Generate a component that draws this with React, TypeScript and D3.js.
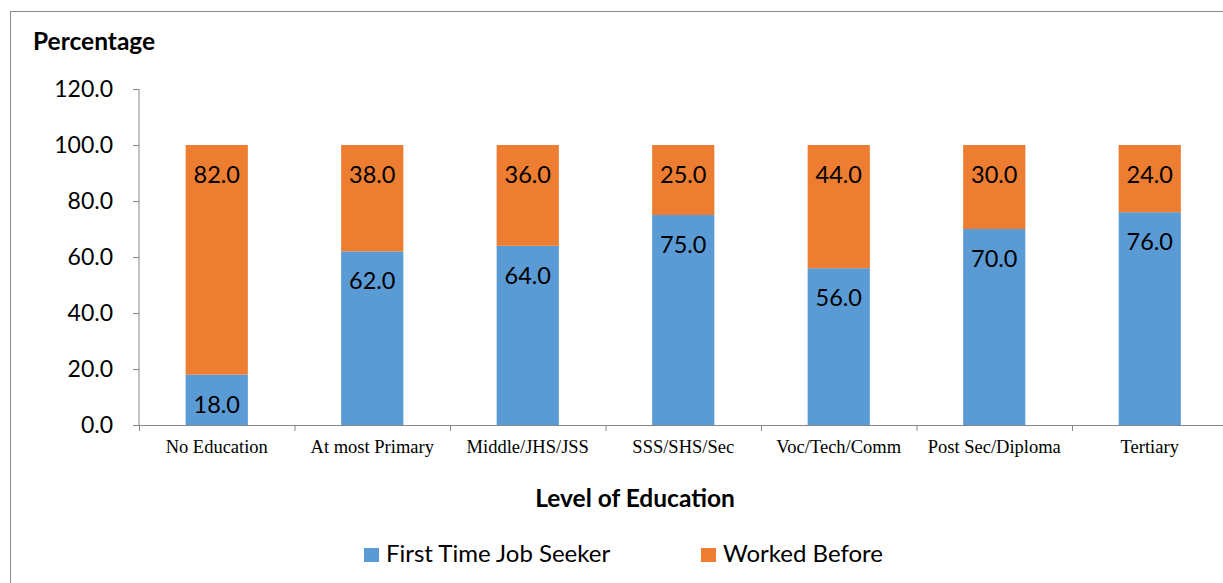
import React from "react";
import * as d3 from "d3";

const categories = [
  "No Education",
  "At most Primary",
  "Middle/JHS/JSS",
  "SSS/SHS/Sec",
  "Voc/Tech/Comm",
  "Post Sec/Diploma",
  "Tertiary",
];
const firstTime = [18, 62, 64, 75, 56, 70, 76];
const workedBefore = [82, 38, 36, 25, 44, 30, 24];
const yTicks = [0, 20, 40, 60, 80, 100, 120];
const seriesNames = ["First Time Job Seeker", "Worked Before"];

const BLUE = "#5B9BD5";
const ORANGE = "#ED7D31";
const AXIS = "#868686";
const FONT = "Lato, 'Open Sans', sans-serif";
const SERIF = "'Liberation Serif', 'Times New Roman', serif";

export default function App() {
  const width = 1223;
  const height = 583;
  const x0 = 139;
  const band = 155.5;

  const x = d3
    .scaleBand<string>()
    .domain(categories)
    .range([x0, x0 + band * categories.length])
    .paddingInner(0.6)
    .paddingOuter(0.3);
  const y = d3.scaleLinear().domain([0, 120]).range([425, 89]);

  const rows = categories.map((c, i) => ({ cat: c, first: firstTime[i], worked: workedBefore[i] }));
  const stack = d3.stack<any>().keys(["first", "worked"])(rows);
  const colors = [BLUE, ORANGE];

  return (
    <div style={{ position: "absolute", left: 0, top: 0 }}>
      <svg width={width} height={height} style={{ display: "block", background: "#fff" }}>
        <rect x={10.5} y={11.5} width={1230} height={600} fill="#fff" stroke="#898989" strokeWidth={1} />

        <text x={33} y={50} fontFamily={FONT} fontWeight="bold" fontSize={24.5} fill="#000">
          Percentage
        </text>

        {/* y axis */}
        <line x1={x0} x2={x0} y1={y(120)} y2={y(0)} stroke={AXIS} />
        {yTicks.map((t) => (
          <g key={t}>
            <line x1={x0 - 6} x2={x0} y1={y(t) + 0.5} y2={y(t) + 0.5} stroke={AXIS} />
            <text x={113} y={y(t)} dy="0.36em" textAnchor="end" fontFamily={FONT} fontSize={23} fill="#000">
              {t.toFixed(1)}
            </text>
          </g>
        ))}

        {/* bars */}
        {stack.map((s, si) =>
          s.map((d, i) => {
            const cat = categories[i];
            const top = y(d[1]);
            const bottom = y(d[0]);
            const val = d[1] - d[0];
            return (
              <g key={`${si}-${i}`}>
                <rect x={x(cat)} y={top} width={x.bandwidth()} height={bottom - top} fill={colors[si]} />
                <text
                  x={(x(cat) as number) + x.bandwidth() / 2}
                  y={top + 38}
                  textAnchor="middle"
                  fontFamily={FONT}
                  fontSize={23.5}
                  fill="#000"
                >
                  {val.toFixed(1)}
                </text>
              </g>
            );
          })
        )}

        {/* x axis */}
        <line x1={x0} x2={width + 10} y1={y(0) + 0.5} y2={y(0) + 0.5} stroke={AXIS} />
        {categories.map((c, i) => (
          <line
            key={c}
            x1={x0 + band * i + 0.5}
            x2={x0 + band * i + 0.5}
            y1={y(0)}
            y2={y(0) + 6}
            stroke={AXIS}
          />
        ))}
        {categories.map((c) => (
          <text
            key={c}
            x={(x(c) as number) + x.bandwidth() / 2}
            y={453}
            textAnchor="middle"
            fontFamily={SERIF}
            fontSize={18.5}
            fill="#000"
          >
            {c}
          </text>
        ))}

        <text x={635} y={507} textAnchor="middle" fontFamily={FONT} fontWeight="bold" fontSize={24.5} fill="#000">
          Level of Education
        </text>

        {/* legend */}
        <rect x={364} y={548} width={15} height={14} fill={BLUE} />
        <text x={386} y={562} fontFamily={FONT} fontSize={24} fill="#000">
          {seriesNames[0]}
        </text>
        <rect x={701} y={548} width={15} height={14} fill={ORANGE} />
        <text x={723} y={562} fontFamily={FONT} fontSize={24} fill="#000">
          {seriesNames[1]}
        </text>
      </svg>
    </div>
  );
}
